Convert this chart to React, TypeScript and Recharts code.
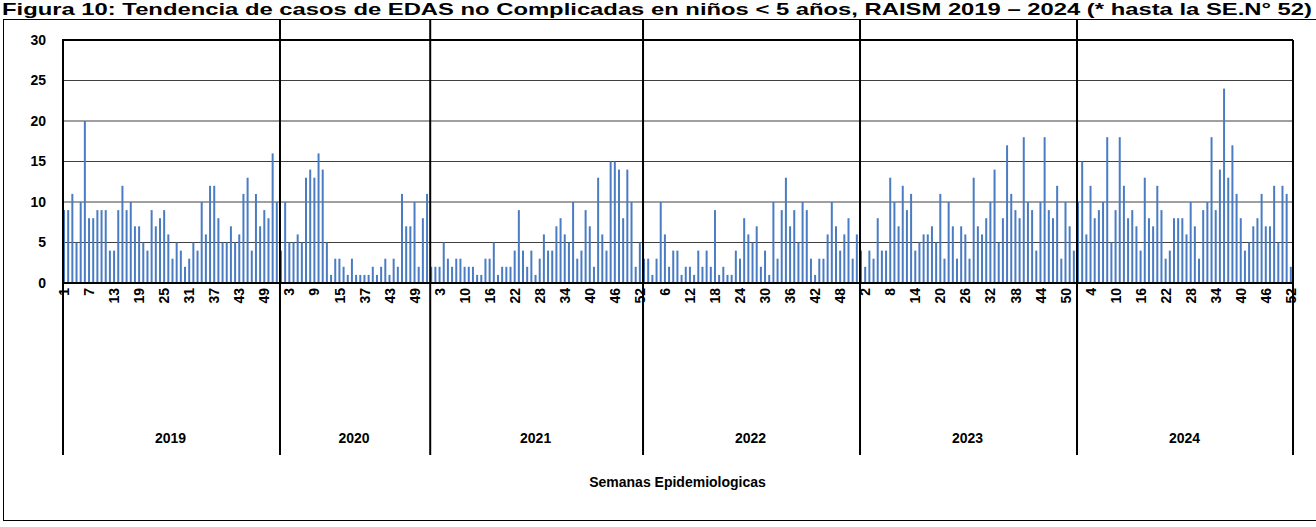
import { BarChart, Bar, XAxis, YAxis, CartesianGrid, ReferenceLine } from 'recharts';

/* -------------------------------------------------------------------------- */
/*  Data                                                                      */
/* -------------------------------------------------------------------------- */

const WEEKS_52 = [
  1, 2, 3, 4, 5, 6, 7, 8, 9, 10, 11, 12, 13, 14, 15, 16, 17, 18, 19, 20, 21, 22, 23, 24, 25, 26,
  27, 28, 29, 30, 31, 32, 33, 34, 35, 36, 37, 38, 39, 40, 41, 42, 43, 44, 45, 46, 47, 48, 49, 50, 51, 52,
];
const weeks2020 = [
  1, 2, 3, 4, 5, 6, 7, 8, 9, 10, 11, 12, 13, 14, 15, 16,
  33, 34, 35, 36, 37, 38, 39, 40, 41, 42, 43, 44, 45, 46, 47, 48, 49, 50, 51, 52,
];
const weeks2021 = [
  1, 2, 3, 5, 6, 7, 8, 9, 10, 11, 12, 13, 14, 15, 16, 17, 18, 19, 20, 21, 22, 23, 24, 25, 26,
  27, 28, 29, 30, 31, 32, 33, 34, 35, 36, 37, 38, 39, 40, 41, 42, 43, 44, 45, 46, 47, 48, 49, 50, 51, 52,
];

const cases2019 = [
  9, 9, 11, 5, 10, 20, 8, 8, 9, 9, 9, 4, 4, 9, 12, 9, 10, 7, 7, 5, 4, 9, 7, 8, 9, 6,
  3, 5, 4, 2, 3, 5, 4, 10, 6, 12, 12, 8, 5, 5, 7, 5, 6, 11, 13, 4, 11, 7, 9, 8, 16, 10,
];
const cases2020 = [
  4, 10, 5, 5, 6, 5, 13, 14, 13, 16, 14, 5, 1, 3, 3, 2, 1, 3,
  1, 1, 1, 1, 2, 1, 2, 3, 1, 3, 2, 11, 7, 7, 10, 2, 8, 11,
];
const cases2021 = [
  2, 2, 2, 5, 3, 2, 3, 3, 2, 2, 2, 1, 1, 3, 3, 5, 1, 2, 2, 2, 4, 9, 4, 2, 4, 1,
  3, 6, 4, 4, 7, 8, 6, 5, 10, 3, 4, 9, 7, 2, 13, 6, 4, 15, 15, 14, 8, 14, 10, 2, 5,
];
const cases2022 = [
  3, 3, 1, 3, 10, 6, 2, 4, 4, 1, 2, 2, 1, 4, 2, 4, 2, 9, 1, 2, 1, 1, 4, 3, 8, 6,
  5, 7, 2, 4, 1, 10, 3, 9, 13, 7, 9, 5, 10, 9, 3, 1, 3, 3, 6, 10, 7, 4, 6, 8, 3, 6,
];
const cases2023 = [
  4, 2, 4, 3, 8, 4, 4, 13, 10, 7, 12, 9, 11, 4, 5, 6, 6, 7, 5, 11, 3, 10, 7, 3, 7, 6,
  3, 13, 7, 6, 8, 10, 14, 5, 8, 17, 11, 9, 8, 18, 10, 9, 4, 10, 18, 9, 8, 12, 3, 10, 7, 4,
];
const cases2024 = [
  10, 15, 6, 12, 8, 9, 10, 18, 5, 9, 18, 12, 8, 9, 7, 4, 13, 8, 7, 12, 9, 3, 4, 8, 8, 8,
  6, 10, 7, 3, 9, 10, 18, 9, 14, 24, 13, 17, 11, 8, 4, 5, 7, 8, 11, 7, 7, 12, 5, 12, 11, 2,
];

const YEARS = ['2019', '2020', '2021', '2022', '2023', '2024'];
const YEAR_WEEKS = [WEEKS_52, weeks2020, weeks2021, WEEKS_52, WEEKS_52, WEEKS_52];
const YEAR_CASES = [cases2019, cases2020, cases2021, cases2022, cases2023, cases2024];
const Y_TICKS = [0, 5, 10, 15, 20, 25, 30];

const TITLE =
  'Figura 10: Tendencia de casos de EDAS no Complicadas en niños < 5 años, RAISM 2019 – 2024 (* hasta la SE.N° 52)';
const X_TITLE = 'Semanas Epidemiologicas';

/* -------------------------------------------------------------------------- */
/*  Layout                                                                    */
/* -------------------------------------------------------------------------- */

const W = 1316;
const H = 527;
const PLOT_LEFT = 62;
const PLOT_RIGHT = 1293;
const PLOT_TOP = 40;
const PLOT_BOTTOM = 405;
const FRAME_TOP = 19;
const GROUP_BOTTOM = 455;
const FONT = '"Liberation Sans", Arial, sans-serif';
const BAR_COLOR = '#4a7cc4';

interface Row {
  id: string;
  year: string;
  week: number;
  cases: number;
  gi: number;
  first: boolean;
  size: number;
}

const rows: Row[] = [];
YEARS.forEach((year, yi) => {
  const weeks = YEAR_WEEKS[yi];
  weeks.forEach((week, i) => {
    rows.push({
      id: `${year}-${week}`,
      year,
      week,
      cases: YEAR_CASES[yi][i],
      gi: rows.length,
      first: i === 0,
      size: weeks.length,
    });
  });
});
const byId = new Map(rows.map((r) => [r.id, r]));
const N = rows.length;
const BAND = (PLOT_RIGHT - PLOT_LEFT) / N;

/* -------------------------------------------------------------------------- */
/*  Ticks                                                                     */
/* -------------------------------------------------------------------------- */

function WeekTick({ x, y, payload }: { x?: number; y?: number; payload?: { value: string } }) {
  const row = payload ? byId.get(payload.value) : undefined;
  if (!row || x == null || y == null) return null;
  const left = x - BAND / 2;
  return (
    <g>
      {row.gi % 6 === 0 && (
        <text
          x={x}
          y={y}
          transform={`rotate(-90, ${x}, ${y})`}
          textAnchor="end"
          dy="0.36em"
          fontFamily={FONT}
          fontWeight="bold"
          fontSize={14}
          fill="#000"
        >
          {row.week}
        </text>
      )}
      {row.first && (
        <>
          <line
            x1={left + 1}
            x2={left + 1}
            y1={row.gi === 0 ? PLOT_TOP : FRAME_TOP}
            y2={GROUP_BOTTOM}
            stroke="#000"
            strokeWidth={2}
          />
          <text
            x={left + (row.size * BAND) / 2}
            y={443}
            textAnchor="middle"
            fontFamily={FONT}
            fontWeight="bold"
            fontSize={14}
            fill="#000"
          >
            {row.year}
          </text>
        </>
      )}
      {row.gi === N - 1 && (
        <line
          x1={x + BAND / 2}
          x2={x + BAND / 2}
          y1={PLOT_TOP}
          y2={GROUP_BOTTOM}
          stroke="#000"
          strokeWidth={2}
        />
      )}
    </g>
  );
}

/* -------------------------------------------------------------------------- */
/*  Component                                                                 */
/* -------------------------------------------------------------------------- */

export default function App() {
  return (
    <div style={{ position: 'absolute', left: 0, top: 0, width: W, height: H, background: '#fff' }}>
      <BarChart
        width={W}
        height={H}
        data={rows}
        margin={{ top: PLOT_TOP, right: W - PLOT_RIGHT, bottom: H - PLOT_BOTTOM, left: 0 }}
        barCategoryGap={0}
      >
        <CartesianGrid horizontal vertical={false} stroke="#404040" strokeWidth={1} />
        <XAxis
          dataKey="id"
          interval={0}
          tickSize={0}
          tickMargin={5}
          tick={<WeekTick />}
          axisLine={{ stroke: '#000', strokeWidth: 2 }}
          height={H - PLOT_BOTTOM}
        />
        <YAxis
          width={PLOT_LEFT}
          domain={[0, 30]}
          ticks={Y_TICKS}
          tickSize={0}
          tickMargin={16}
          axisLine={false}
          tick={{ fontFamily: FONT, fontWeight: 'bold', fontSize: 14, fill: '#000' }}
        />
        <ReferenceLine y={30} stroke="#000" strokeWidth={2} />
        <Bar dataKey="cases" fill={BAR_COLOR} barSize={2} isAnimationActive={false} />
      </BarChart>
      <svg
        width={W}
        height={H}
        style={{ position: 'absolute', left: 0, top: 0, pointerEvents: 'none' }}
      >
        <text
          x={2}
          y={15}
          textLength={1310}
          lengthAdjust="spacingAndGlyphs"
          fontFamily={FONT}
          fontWeight="bold"
          fontSize={17}
          fill="#000"
        >
          {TITLE}
        </text>
        <rect x={3.5} y={FRAME_TOP + 0.5} width={W} height={520 - FRAME_TOP} fill="none" stroke="#000" strokeWidth={1} />
        <text
          x={(PLOT_LEFT + PLOT_RIGHT) / 2}
          y={487}
          textAnchor="middle"
          fontFamily={FONT}
          fontWeight="bold"
          fontSize={14}
          fill="#000"
        >
          {X_TITLE}
        </text>
      </svg>
    </div>
  );
}
